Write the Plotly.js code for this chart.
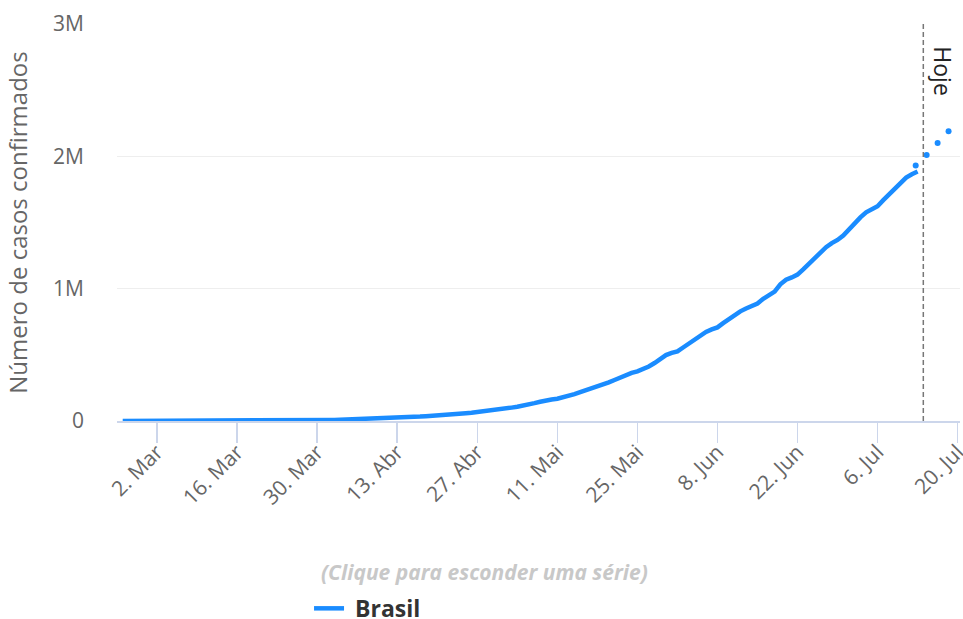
<!DOCTYPE html>
<html>
<head>
<meta charset="utf-8">
<script src="https://cdn.plot.ly/plotly-3.0.1.min.js"></script>
<style>
html,body{margin:0;padding:0;background:#fff;overflow:hidden;}
#chart{width:963px;height:640px;}
</style>
</head>
<body>
<div id="chart"></div>
<script>
// Confirmed cases, Brasil (cumulative)
const dates = [
"2020-02-25","2020-02-26","2020-02-27","2020-02-28","2020-02-29","2020-03-01","2020-03-02","2020-03-03","2020-03-04","2020-03-05","2020-03-06",
"2020-03-07","2020-03-08","2020-03-09","2020-03-10","2020-03-11","2020-03-12","2020-03-13","2020-03-14","2020-03-15","2020-03-16",
"2020-03-17","2020-03-18","2020-03-19","2020-03-20","2020-03-21","2020-03-22","2020-03-23","2020-03-24","2020-03-25","2020-03-26",
"2020-03-27","2020-03-28","2020-03-29","2020-03-30","2020-03-31","2020-04-01","2020-04-02","2020-04-03","2020-04-04","2020-04-05",
"2020-04-06","2020-04-07","2020-04-08","2020-04-09","2020-04-10","2020-04-11","2020-04-12","2020-04-13","2020-04-14","2020-04-15",
"2020-04-16","2020-04-17","2020-04-18","2020-04-19","2020-04-20","2020-04-21","2020-04-22","2020-04-23","2020-04-24","2020-04-25",
"2020-04-26","2020-04-27","2020-04-28","2020-04-29","2020-04-30","2020-05-01","2020-05-02","2020-05-03","2020-05-04","2020-05-05",
"2020-05-06","2020-05-07","2020-05-08","2020-05-09","2020-05-10","2020-05-11","2020-05-12","2020-05-13","2020-05-14","2020-05-15",
"2020-05-16","2020-05-17","2020-05-18","2020-05-19","2020-05-20","2020-05-21","2020-05-22","2020-05-23","2020-05-24","2020-05-25",
"2020-05-26","2020-05-27","2020-05-28","2020-05-29","2020-05-30","2020-05-31","2020-06-01","2020-06-02","2020-06-03","2020-06-04",
"2020-06-05","2020-06-06","2020-06-07","2020-06-08","2020-06-09","2020-06-10","2020-06-11","2020-06-12","2020-06-13","2020-06-14",
"2020-06-15","2020-06-16","2020-06-17","2020-06-18","2020-06-19","2020-06-20","2020-06-21","2020-06-22","2020-06-23","2020-06-24",
"2020-06-25","2020-06-26","2020-06-27","2020-06-28","2020-06-29","2020-06-30","2020-07-01","2020-07-02","2020-07-03","2020-07-04",
"2020-07-05","2020-07-06","2020-07-07","2020-07-08","2020-07-09","2020-07-10","2020-07-11","2020-07-12","2020-07-13"
];
const cases = [
1,1,1,1,2,2,2,2,3,8,13,
19,25,25,34,52,77,98,121,200,234,
291,428,621,904,1128,1546,1891,2201,2433,2915,
3417,3904,4256,4579,5717,6836,8044,9056,10360,11130,
12161,14034,16170,18092,19638,20727,22169,23430,25262,28320,
30425,33682,36599,38654,40581,43079,45757,49492,52995,58509,
61888,66501,71886,78162,85380,91299,96396,101147,107780,114715,
125218,135106,145328,155939,162699,168331,177589,188974,202918,218223,
233142,241080,254220,271628,291579,310087,330890,347398,363211,374898,
391222,411821,438238,465166,498440,514849,526447,555383,584016,614941,
645771,672846,691758,707412,739503,772416,802828,828810,850514,867624,
888271,923189,955377,978142,1032913,1067579,1085038,1106470,1145906,1188631,
1228114,1274974,1313667,1344143,1368195,1402041,1448753,1496858,1539081,1577004,
1603055,1623284,1668589,1713160,1755779,1800827,1839850,1864681,1884967
];
// Projection dots after the last observation
const projDates = ["2020-07-12 16:00","2020-07-14 14:00","2020-07-16 12:00","2020-07-18 10:00"];
const projCases = [1930000,2010000,2100000,2190000];

const todayDate = "2020-07-14";
const todayLabel = "Hoje";
const seriesName = "Brasil";
const yTitle = "Número de casos confirmados";
const hintText = "(Clique para esconder uma série)";

const xTickVals = ["2020-03-02","2020-03-16","2020-03-30","2020-04-13","2020-04-27","2020-05-11","2020-05-25","2020-06-08","2020-06-22","2020-07-06","2020-07-20"];
const xTickText = ["2. Mar","16. Mar","30. Mar","13. Abr","27. Abr","11. Mai","25. Mai","8. Jun","22. Jun","6. Jul","20. Jul"];
const yTickVals = [0,1000000,2000000,3000000];
const yTickText = ["0","1M","2M","3M"];

const blue = "#1a8cff";
const font = "'Open Sans', 'DejaVu Sans', sans-serif";

const traces = [
  {
    x: dates, y: cases, type: "scatter", mode: "lines", name: "<b>&nbsp;" + seriesName + "</b>",
    line: {color: blue, width: 4.5}, hoverinfo: "x+y"
  },
  {
    x: projDates, y: projCases, type: "scatter", mode: "markers", name: seriesName + " proj",
    marker: {color: blue, size: 6}, showlegend: false
  }
];

const layout = {
  width: 963, height: 640,
  margin: {l: 117, r: 3, t: 24, b: 219, autoexpand: false},
  paper_bgcolor: "#fff", plot_bgcolor: "#fff",
  font: {family: font, color: "#666"},
  showlegend: true,
  legend: {
    orientation: "h", x: 0.2278, xanchor: "left", y: -0.472, yanchor: "middle",
    font: {family: font, size: 23, color: "#333"},
    bgcolor: "rgba(0,0,0,0)"
  },
  xaxis: {
    type: "date",
    range: ["2020-02-24 00:00", "2020-07-20 10:00"],
    tickmode: "array", tickvals: xTickVals, ticktext: xTickText,
    tickangle: -45,
    tickfont: {family: font, size: 21, color: "#666"},
    ticklabeloverflow: "allow",
    ticklabelstandoff: -11,
    ticks: "outside", ticklen: 20, tickcolor: "#ccd6eb", tickwidth: 1.5,
    showline: true, linecolor: "#ccd6eb", linewidth: 1.5,
    showgrid: false, zeroline: false, fixedrange: true
  },
  yaxis: {
    range: [0, 3000000],
    tickmode: "array", tickvals: yTickVals, ticktext: yTickText,
    tickfont: {family: font, size: 21, color: "#666"},
    ticklabelstandoff: 32,
    showgrid: true, gridcolor: "#eeeeee", gridwidth: 1.5,
    zeroline: false, showline: false, fixedrange: true,
    title: {text: yTitle, font: {family: font, size: 24, color: "#666"}, standoff: 18}
  },
  shapes: [
    {
      type: "line", xref: "x", yref: "paper",
      x0: todayDate, x1: todayDate, y0: 0, y1: 1,
      line: {color: "#777", width: 1.5, dash: "5px,3px"}
    }
  ],
  annotations: [
    {
      xref: "x", yref: "paper", x: todayDate, y: 0.880, xanchor: "left", yanchor: "middle",
      xshift: 2, text: todayLabel, textangle: 90, showarrow: false,
      font: {family: font, size: 23, color: "#222"}
    },
    {
      xref: "paper", yref: "paper", x: 0.4355, y: -0.380, xanchor: "center", yanchor: "middle",
      text: "<b><i>" + hintText + "</i></b>", showarrow: false,
      font: {family: font, size: 21, color: "#c8c8c8"}
    }
  ]
};

Plotly.newPlot("chart", traces, layout, {displayModeBar: false, staticPlot: true});
</script>
</body>
</html>
